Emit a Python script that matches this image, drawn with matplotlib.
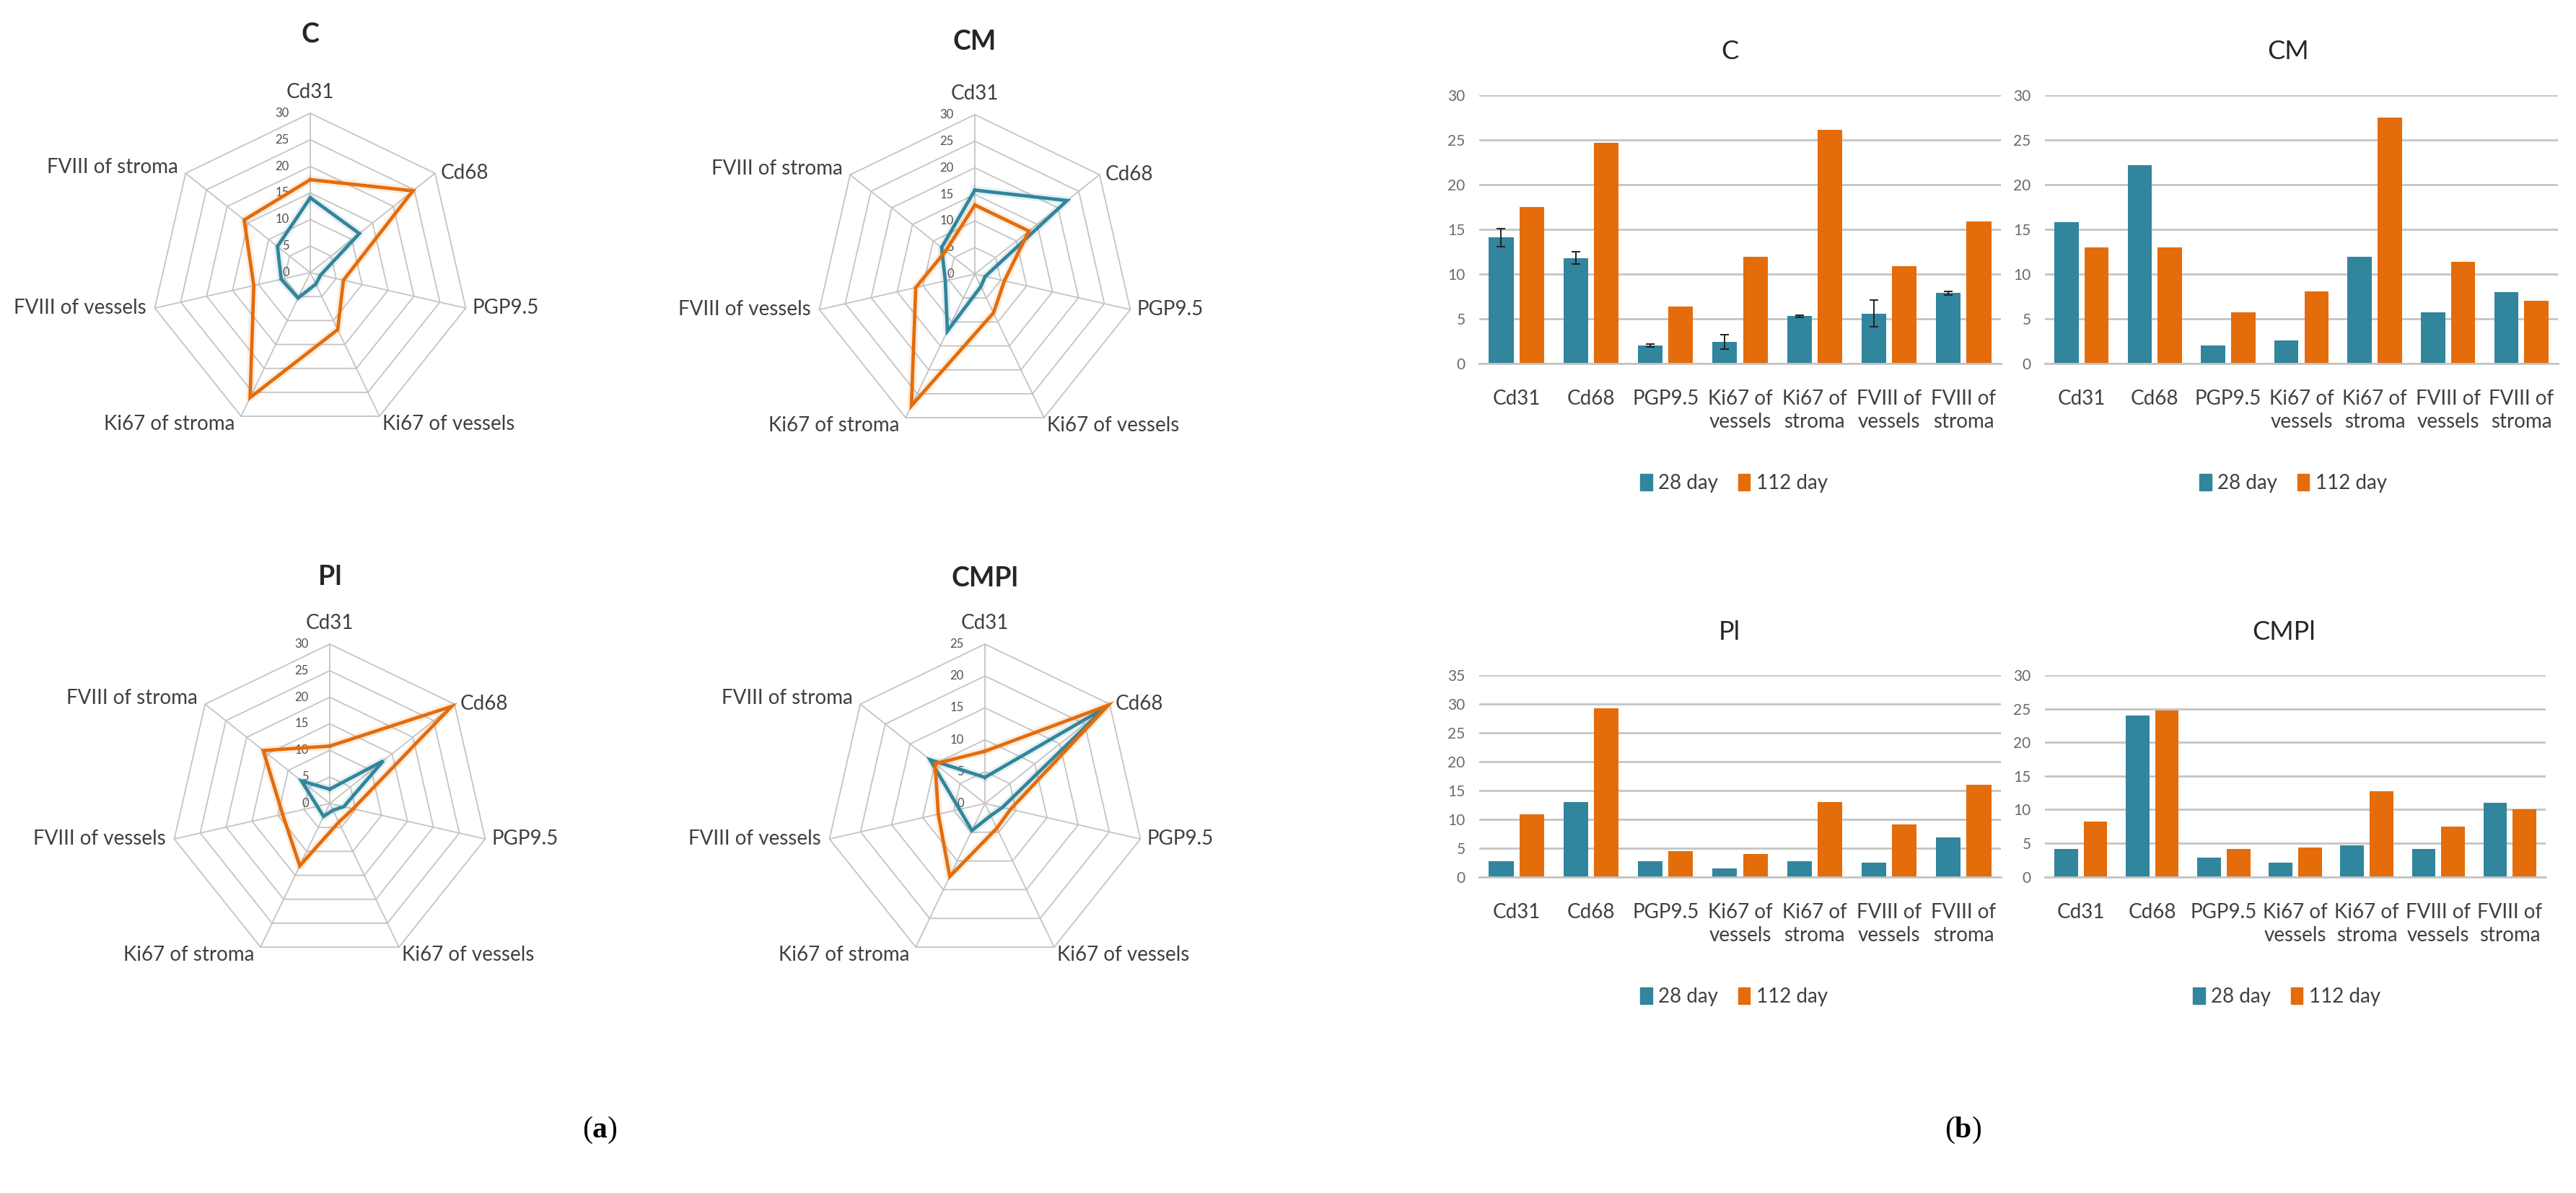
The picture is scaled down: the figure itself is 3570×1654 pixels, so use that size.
import numpy as np
import matplotlib
matplotlib.use("Agg")
import matplotlib.pyplot as plt  # noqa: E402
from matplotlib.patches import Patch  # noqa: E402

# Figure size in pixels (dpi 100)
W, H = 3570, 1654
DPI = 100

categories = ["Cd31", "Cd68", "PGP9.5", "Ki67 of vessels", "Ki67 of stroma",
              "FVIII of vessels", "FVIII of stroma"]
bar_labels = ["Cd31", "Cd68", "PGP9.5", "Ki67 of\nvessels", "Ki67 of\nstroma",
              "FVIII of\nvessels", "FVIII of\nstroma"]
series_names = ["28 day", "112 day"]

# values (same numbers feed radar and bar panels)
c_28 = [14.1, 11.8, 2.0, 2.4, 5.3, 5.6, 7.9]
c_28_err = [1.0, 0.7, 0.15, 0.8, 0.1, 1.5, 0.2]
c_112 = [17.5, 24.7, 6.4, 11.9, 26.1, 10.9, 15.9]

cm_28 = [15.8, 22.2, 2.0, 2.6, 11.9, 5.7, 8.0]
cm_112 = [13.0, 13.0, 5.7, 8.1, 27.5, 11.4, 7.0]

pl_28 = [2.7, 12.9, 2.7, 1.4, 2.7, 2.4, 6.8]
pl_112 = [10.8, 29.3, 4.5, 3.9, 13.0, 9.1, 16.0]

cmpl_28 = [4.1, 24.0, 2.8, 2.1, 4.7, 4.1, 11.0]
cmpl_112 = [8.2, 24.7, 4.1, 4.3, 12.7, 7.5, 10.0]

BLUE = "#31859c"
ORANGE = "#e46c0a"
GRID = "#c4c4c4"
TXT = "#404040"

plt.rcParams["font.family"] = ["Lato", "DejaVu Sans"]
plt.rcParams["mathtext.fontset"] = "custom"
plt.rcParams["mathtext.bf"] = "Liberation Serif:bold"
plt.rcParams["mathtext.rm"] = "Liberation Serif"

fig = plt.figure(figsize=(W / DPI, H / DPI), dpi=DPI)
fig.patch.set_facecolor("white")

PT = 72.0 / DPI  # pixels -> points


def fx(x):
    return x / W


def fy(y):
    return 1 - y / H


def radar(cx, cy, rmax, d28, d112, title, title_y, R=221):
    S = 340
    ax = fig.add_axes([fx(cx - S), fy(cy + S), 2 * S / W, 2 * S / H])
    lim = S / R * rmax
    ax.set_xlim(-lim, lim)
    ax.set_ylim(-lim, lim)
    ax.axis("off")

    n = len(categories)
    ang = np.arange(n) * 2 * np.pi / n
    ux, uy = np.sin(ang), np.cos(ang)
    ux_c, uy_c = np.append(ux, ux[0]), np.append(uy, uy[0])

    # polygon rings + spokes
    for r in range(5, rmax + 1, 5):
        ax.plot(ux_c * r, uy_c * r, color=GRID, lw=1.3, zorder=1)
    for i in range(n):
        ax.plot([0, ux[i] * rmax], [0, uy[i] * rmax], color=GRID, lw=1.3, zorder=1)

    for r in range(0, rmax + 1, 5):
        ax.annotate(str(r), xy=(0, r), xytext=(-21, 0), textcoords="offset points",
                    ha="right", va="center", fontsize=12, color="#505050", zorder=2)

    for vals, col in ((d28, BLUE), (d112, ORANGE)):
        v = np.append(vals, vals[0])
        # soft glow like the Excel line effect
        ax.plot(v * ux_c, v * uy_c, color=col, lw=8, alpha=0.12, zorder=3)
        ax.plot(v * ux_c, v * uy_c, color=col, lw=3.4, zorder=3,
                solid_joinstyle="miter")

    # label placement around the polygon (offsets in px)
    offs = [(0, 29), (8, 0), (9, 0), (4, -11), (-9, -11), (-12, 0), (-10, 8)]
    has = ["center", "left", "left", "left", "right", "right", "right"]
    for i, lab in enumerate(categories):
        ax.annotate(lab, xy=(ux[i] * rmax, uy[i] * rmax),
                    xytext=(offs[i][0] * PT, offs[i][1] * PT), textcoords="offset points",
                    ha=has[i], va="center", fontsize=20, color=TXT)

    fig.text(fx(cx), fy(title_y), title, ha="center", va="center",
             fontsize=27, fontweight="bold", color="#262626")


def bars(left, top, right, bottom, ymax, d28, d112, title, title_xy, leg_xy, err=None):
    ax = fig.add_axes([fx(left), fy(bottom), (right - left) / W, (bottom - top) / H])
    x = np.arange(len(categories))
    ax.bar(x - 0.205, d28, 0.33, color=BLUE, zorder=2,
           yerr=err, error_kw=dict(ecolor="#222222", elinewidth=1.4, capsize=4, capthick=1.4))
    ax.bar(x + 0.205, d112, 0.33, color=ORANGE, zorder=2)
    ax.set_xlim(-0.5, len(categories) - 0.5)
    ax.set_ylim(0, ymax)
    ax.set_yticks(range(0, ymax + 1, 5))
    ax.yaxis.grid(True, color=GRID, lw=2)
    ax.set_axisbelow(True)
    for s in ("top", "left", "right"):
        ax.spines[s].set_visible(False)
    ax.spines["bottom"].set_color(GRID)
    ax.spines["bottom"].set_linewidth(2)
    ax.tick_params(axis="y", length=0, pad=14, labelsize=15, labelcolor="#6a6a6a")
    ax.tick_params(axis="x", length=0, pad=26, labelsize=20, labelcolor=TXT)
    ax.set_xticks(x)
    ax.set_xticklabels(bar_labels, linespacing=1.3)
    ax.set_facecolor("none")

    fig.text(fx(title_xy[0]), fy(title_xy[1]), title, ha="center", va="center",
             fontsize=26, color="#262626")
    handles = [Patch(color=BLUE, label=series_names[0]),
               Patch(color=ORANGE, label=series_names[1])]
    fig.legend(handles=handles, loc="center", bbox_to_anchor=(fx(leg_xy[0]), fy(leg_xy[1])),
               ncol=2, frameon=False, fontsize=20, handlelength=0.6, handleheight=0.86,
               handletextpad=0.3, columnspacing=1.0, labelcolor=TXT)


# (a) radar panels
radar(430, 378, 30, c_28, c_112, "C", 48)
radar(1351, 380, 30, cm_28, cm_112, "CM", 58)
radar(457, 1114, 30, pl_28, pl_112, "Pl", 800)
radar(1365, 1114, 25, cmpl_28, cmpl_112, "CMPl", 802)

# (b) bar panels
bars(2050, 132, 2773, 504, 30, c_28, c_112, "C", (2397, 71), (2403, 670), err=c_28_err)
bars(2834, 132, 3545, 504, 30, cm_28, cm_112, "CM", (3171, 71), (3178, 670))
bars(2050, 936, 2773, 1215.5, 35, pl_28, pl_112, "Pl", (2397, 877), (2403, 1382))
bars(2834, 936, 3528, 1215.5, 30, cmpl_28, cmpl_112, "CMPl", (3165, 877), (3169, 1382))

fig.text(fx(831), fy(1567), r"($\mathbf{a}$)", ha="center", va="center",
         fontsize=30, family="Liberation Serif")
fig.text(fx(2721), fy(1567), r"($\mathbf{b}$)", ha="center", va="center",
         fontsize=30, family="Liberation Serif")

fig.savefig("out.png", dpi=DPI, facecolor="white")
